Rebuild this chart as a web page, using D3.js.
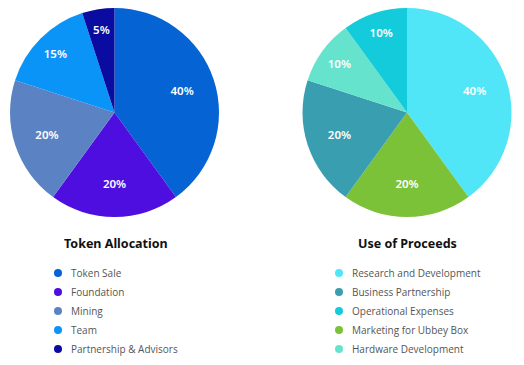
<!DOCTYPE html>
<html>
<head>
<meta charset="utf-8">
<script src="https://cdn.jsdelivr.net/npm/d3@7"></script>
<style>
  html, body { margin: 0; padding: 0; background: #ffffff; }
  svg { display: block; }
</style>
</head>
<body>
<div id="chart"></div>
<script>
// ---- Data ----
const tokenTitle = "Token Allocation";
const tokenCategories = ["Token Sale", "Foundation", "Mining", "Team", "Partnership & Advisors"];
const tokenValues = [40, 20, 20, 15, 5];
const tokenColors = ["#0563d3", "#4e0ee0", "#5b83c3", "#0b94f8", "#0a0ba0"];
const tokenPieOrder = [0, 1, 2, 3, 4];

const proceedsTitle = "Use of Proceeds";
const proceedsCategories = ["Research and Development", "Business Partnership", "Operational Expenses", "Marketing for Ubbey Box", "Hardware Development"];
const proceedsValues = [40, 20, 10, 20, 10];
const proceedsColors = ["#50e6f8", "#389eb0", "#14cbdb", "#7bc238", "#66e3cd"];
const proceedsPieOrder = [0, 3, 1, 4, 2];

// ---- Layout ----
const W = 524, H = 365;
const svg = d3.select("#chart").append("svg").attr("width", W).attr("height", H);

function drawPanel(cx, cy, r, title, titleX, cats, vals, colors, order, legX) {
  const g = svg.append("g").attr("transform", `translate(${cx},${cy})`);
  const data = order.map(i => ({ name: cats[i], value: vals[i], color: colors[i] }));
  const pie = d3.pie().sort(null).value(d => d.value);
  const arcs = pie(data);
  const arc = d3.arc().innerRadius(0).outerRadius(r);
  g.selectAll("path").data(arcs).enter().append("path")
    .attr("d", arc).attr("fill", d => d.data.color);
  const labelArcBig = d3.arc().innerRadius(r * 0.68).outerRadius(r * 0.68);
  const labelArcSmall = d3.arc().innerRadius(r * 0.8).outerRadius(r * 0.8);
  g.selectAll("text.lbl").data(arcs).enter().append("text")
    .attr("class", "lbl")
    .attr("transform", d => `translate(${(d.data.value < 20 ? labelArcSmall : labelArcBig).centroid(d)})`)
    .attr("text-anchor", "middle").attr("dy", "0.36em")
    .attr("fill", "#ffffff")
    .style("font-family", "'Noto Sans', sans-serif").style("font-weight", 600).style("font-size", "11.5px")
    .text(d => d.data.value + "%");

  svg.append("text").attr("x", titleX).attr("y", 248)
    .style("font-family", "'Noto Sans', sans-serif").style("font-weight", 700).style("font-size", "12.5px")
    .attr("fill", "#111").text(title);

  const y = d3.scalePoint().domain(cats).range([273, 349]);
  const lg = svg.append("g");
  cats.forEach((c, i) => {
    lg.append("circle").attr("cx", legX).attr("cy", y(c)).attr("r", 4).attr("fill", colors[i]);
    lg.append("text").attr("x", legX + 13).attr("y", y(c)).attr("dy", "0.35em")
      .style("font-family", "'Open Sans', sans-serif").style("font-size", "10px")
      .attr("fill", "#555").text(c);
  });
}

drawPanel(114.5, 112.5, 104.5, tokenTitle, 64, tokenCategories, tokenValues, tokenColors, tokenPieOrder, 58);
drawPanel(407, 112.5, 104.5, proceedsTitle, 358, proceedsCategories, proceedsValues, proceedsColors, proceedsPieOrder, 339);
</script>
</body>
</html>
